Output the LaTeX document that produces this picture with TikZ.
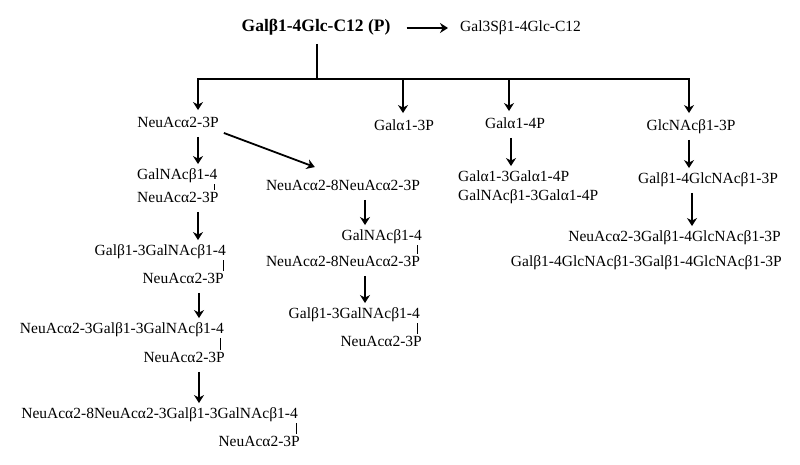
\documentclass[tikz,border=0pt]{standalone}
\usepackage{fontspec}
\setmainfont{Liberation Serif}
\usetikzlibrary{arrows.meta}

\begin{document}
\begin{tikzpicture}[x=1pt,y=-1pt,
	sugar/.style={inner sep=0pt,text height=10.5pt,text depth=3pt,font=\fontsize{15.5}{18}\selectfont},
	arr/.style={line width=1.8pt,-{Stealth[length=8pt,width=10pt]},shorten <=6pt,shorten >=5pt},
	link/.style={line width=0.9pt,shorten <=1.5pt,shorten >=2.5pt}]
	\useasboundingbox (0,0) rectangle (800,464);
	% substrate
	\node[sugar,font=\bfseries\fontsize{17.5}{20}\selectfont] (lac) at (316,28) {Galβ1-4Glc-C12 (P)};
	\node[sugar,anchor=west] (sulf) at (460,28) {Gal3Sβ1-4Glc-C12};
	\draw[arr,shorten <=16pt,shorten >=12pt] (lac.east) -- (sulf.west);
	\coordinate (bus) at (317,79);
	\draw[line width=1.8pt,shorten <=9pt] (lac.south -| bus) -- (bus);
	
	% first products
	\node[sugar] (neuA) at (178,124) {NeuAcα2-3P};
	\node[sugar] (galA3) at (404,127) {Galα1-3P};
	\node[sugar] (galA4) at (515,125) {Galα1-4P};
	\node[sugar] (glc) at (691,127) {GlcNAcβ1-3P};
	\draw[arr,shorten <=0pt,shorten >=7pt] (bus) -| ([xshift=20pt]neuA.north);
	\draw[arr,shorten <=0pt,shorten >=7pt] (bus) -| ([xshift=-1pt]galA3.north);
	\draw[arr,shorten <=0pt,shorten >=7pt] (bus) -| ([xshift=-6pt]galA4.north);
	\draw[arr,shorten <=0pt,shorten >=7pt] (bus) -| ([xshift=-2pt]glc.north);
	
	% GM3 branch
	\node[sugar,anchor=west] (galnA) at (137,176) {GalNAcβ1-4};
	\node[sugar,anchor=west] (neuB) at (137,199) {NeuAcα2-3P};
	\node[sugar,anchor=east] (galB) at (226,252) {Galβ1-3GalNAcβ1-4};
	\node[sugar,anchor=east] (neuC) at (224,280) {NeuAcα2-3P};
	\node[sugar,anchor=east] (neuD) at (224,330) {NeuAcα2-3Galβ1-3GalNAcβ1-4};
	\node[sugar,anchor=east] (neuE) at (225,359) {NeuAcα2-3P};
	\node[sugar,anchor=east] (neuF) at (298,415) {NeuAcα2-8NeuAcα2-3Galβ1-3GalNAcβ1-4};
	\node[sugar,anchor=east] (neuG) at (300,443) {NeuAcα2-3P};
	\draw[arr] ([xshift=20pt]neuA.south) -- ([xshift=20pt]neuA.south |- galnA.north);
	\draw[link] ([xshift=-3pt]galnA.south east) -- ([xshift=-3pt]galnA.south east |- neuB.north);
	\draw[arr] ([xshift=61pt]neuB.south west) -- ([xshift=61pt]neuB.south west |- galB.north);
	\draw[link] ([xshift=-3pt]galB.south east) -- ([xshift=-3pt]galB.south east |- neuC.north);
	\draw[arr] ([xshift=-25pt]neuC.south east) -- ([xshift=-25pt]neuC.south east |- neuD.north);
	\draw[link] ([xshift=-4pt]neuD.south east) -- ([xshift=-4pt]neuD.south east |- neuE.north);
	\draw[arr] ([xshift=-26pt]neuE.south east) -- ([xshift=-26pt]neuE.south east |- neuF.north);
	\draw[link] ([xshift=-2pt]neuF.south east) -- ([xshift=-2pt]neuF.south east |- neuG.north);
	
	% GD3 branch
	\node[sugar] (polyA) at (343,187) {NeuAcα2-8NeuAcα2-3P};
	\node[sugar,anchor=east] (galnM) at (422,237) {GalNAcβ1-4};
	\node[sugar] (polyB) at (343,263) {NeuAcα2-8NeuAcα2-3P};
	\node[sugar,anchor=east] (galM) at (420,315) {Galβ1-3GalNAcβ1-4};
	\node[sugar,anchor=east] (neuM) at (422,343) {NeuAcα2-3P};
	\draw[arr,shorten <=0pt,shorten >=0pt] ([shift={(5,2)}]neuA.south east) -- ([shift={(49,-13)}]polyA.north west);
	\draw[arr] ([xshift=22pt]polyA.south) -- ([xshift=22pt]polyA.south |- galnM.north);
	\draw[link] ([xshift=-5pt]galnM.south east) -- ([xshift=-5pt]galnM.south east |- polyB.north);
	\draw[arr] ([xshift=22pt]polyB.south) -- ([xshift=22pt]polyB.south |- galM.north);
	\draw[link] ([xshift=-3pt]galM.south east) -- ([xshift=-3pt]galM.south east |- neuM.north);
	
	% globo branch
	\node[sugar,anchor=west] (galaA) at (458,178) {Galα1-3Galα1-4P};
	\node[sugar,anchor=west] (galnB) at (458,197) {GalNAcβ1-3Galα1-4P};
	\draw[arr] ([xshift=-4pt]galA4.south) -- ([xshift=-4pt]galA4.south |- galaA.north);
	
	% lacto branch
	\node[sugar] (lacn) at (708,180) {Galβ1-4GlcNAcβ1-3P};
	\node[sugar,anchor=east] (neuL) at (781,238) {NeuAcα2-3Galβ1-4GlcNAcβ1-3P};
	\node[sugar,anchor=east] (polyL) at (782,263) {Galβ1-4GlcNAcβ1-3Galβ1-4GlcNAcβ1-3P};
	\draw[arr] ([xshift=-2pt]glc.south) -- ([xshift=-2pt]glc.south |- lacn.north);
	\draw[arr] ([xshift=-16pt]lacn.south) -- ([xshift=-16pt]lacn.south |- neuL.north);
	
\end{tikzpicture}
\end{document}
